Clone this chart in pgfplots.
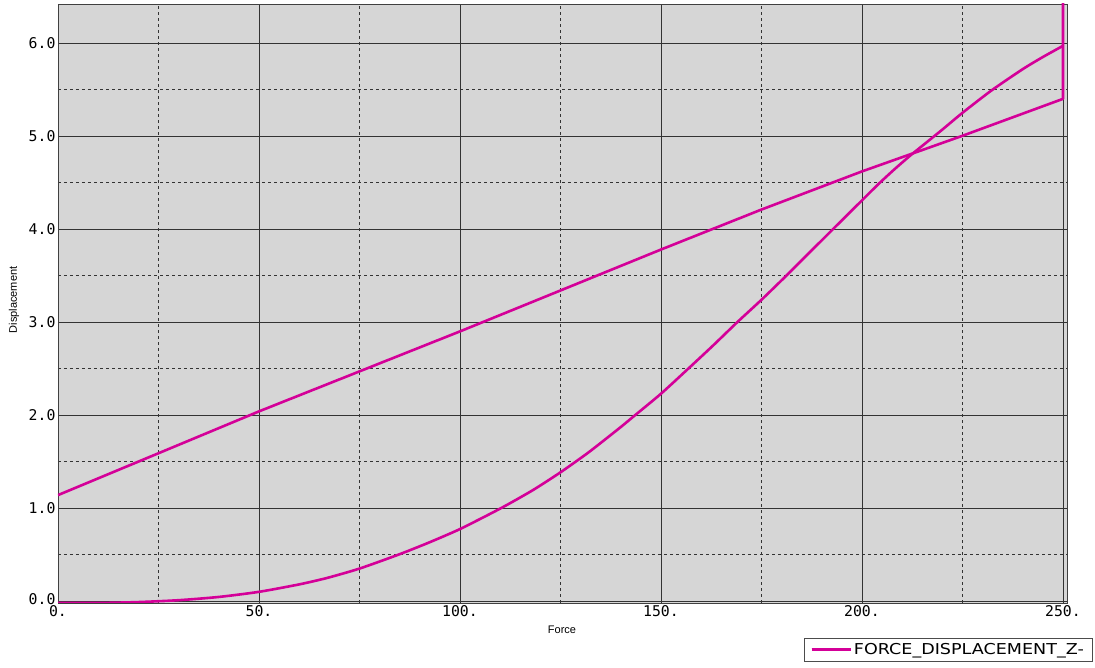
\documentclass[border=0pt]{standalone}
\usepackage{pgfplots}
\pgfplotsset{compat=1.18}
\usepackage{fontspec}
\setmainfont{DejaVu Sans}
\newfontfamily\tickfont{DejaVu Sans Mono}
\newfontfamily\labfont{Liberation Sans}
\newfontfamily\legfont[FakeStretch=1.17]{DejaVu Sans}
\definecolor{curve}{RGB}{212,0,152}
\definecolor{bg}{RGB}{214,214,214}
\begin{document}
\begin{tikzpicture}
\path[use as bounding box] (-58pt,-65pt) rectangle (1037pt,603pt);
\begin{axis}[
  at={(0,0)}, anchor=south west,
  scale only axis, width=1009pt, height=599pt,
  xmin=0, xmax=251, ymin=-0.02, ymax=6.42,
  axis background/.style={fill=bg},
  xtick={0,50,100,150,200,250},
  xticklabels={0.,50.,100.,150.,200.,250.},
  ytick={0,1,2,3,4,5,6},
  yticklabels={\raisebox{4pt}{0.0},1.0,2.0,3.0,4.0,5.0,6.0},
  minor xtick={25,75,125,175,225},
  minor ytick={0.5,1.5,2.5,3.5,4.5,5.5},
  grid=both,
  major grid style={black!80, line width=0.8pt},
  minor grid style={black!80, dashed, line width=0.7pt},
  tick style={draw=none},
  minor tick style={draw=none},
  axis line style={black!75, line width=0.8pt},
  ticklabel style={font=\tickfont\fontsize{14.8}{16}\selectfont},
  xticklabel style={yshift=1pt},
  yticklabel style={xshift=1pt},
  xlabel={Force}, ylabel={Displacement},
  xlabel style={font=\labfont\fontsize{11}{12}\selectfont, at={(axis description cs:0.4995,-0.045)}, anchor=center},
  ylabel style={font=\labfont\fontsize{11}{12}\selectfont, at={(axis description cs:-0.0436,0.506)}, anchor=center},
  legend style={at={(axis description cs:1.0248,-0.0584)}, anchor=north east,
    draw=black!70, fill=white, font=\legfont\fontsize{15}{16}\selectfont,
    inner xsep=6pt, inner ysep=3pt},
  legend cell align=left,
  legend image code/.code={\draw[#1, line width=2.8pt] (0pt,0pt) -- (28pt,0pt); \path (0pt,0pt) -- (39pt,0pt);},
]
\addplot[curve, line width=2.6pt, smooth, tension=0.4, forget plot] coordinates {
(0,-0.02) (10,-0.02) (20,-0.01) (30,0.01) (40,0.045) (50,0.10) (60,0.18) (67,0.25)
(75,0.35) (84.7,0.50) (92,0.625) (100,0.775) (110,0.995) (118,1.19) (125,1.385) (132,1.60)
(139.8,1.865) (143.3,1.99) (150,2.23) (156.8,2.5) (163,2.75) (169,3.0) (175,3.24)
(181.2,3.5) (187,3.75) (192.8,4.0) (199.8,4.30) (204,4.48) (208,4.64) (212,4.79) (216,4.93)
(220,5.07) (225,5.25) (232.2,5.49) (240,5.72) (245,5.85) (250,5.97)
};
\addplot[curve, line width=2.6pt, line join=round] coordinates {
(250,5.97) (250,6.7) (250,5.40)
(224.8,5.0) (200,4.62) (175,4.21) (150,3.78) (125,3.34) (100,2.90) (75,2.47) (50,2.04) (25,1.59) (0,1.14)
};
\addlegendentry{FORCE\_DISPLACEMENT\_Z-}
\end{axis}
\end{tikzpicture}
\end{document}
